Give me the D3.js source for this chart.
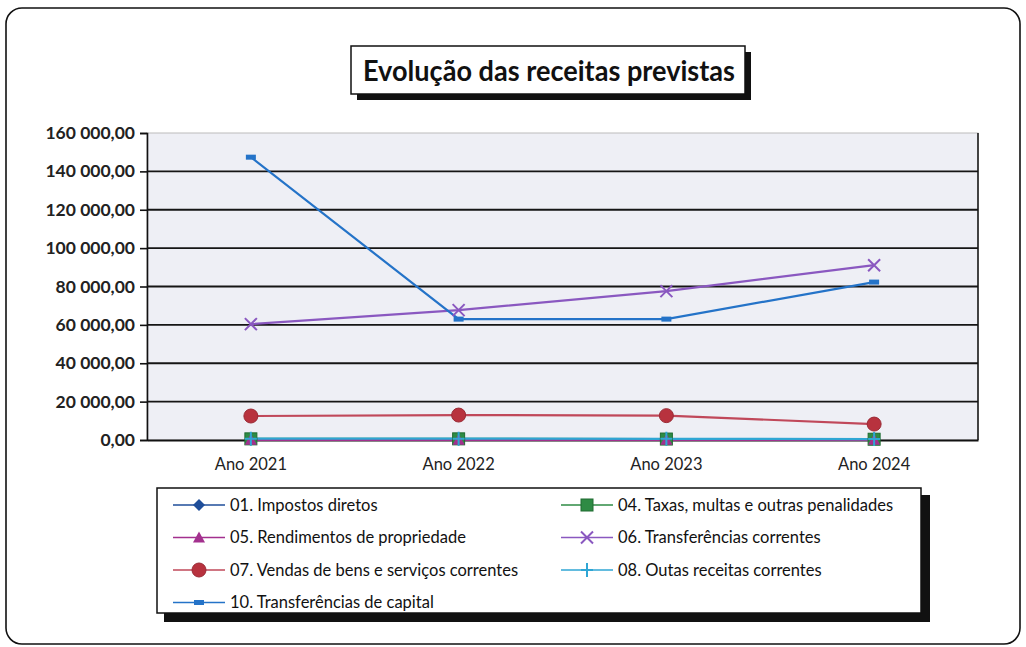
<!DOCTYPE html>
<html><head><meta charset="utf-8">
<script src="https://cdn.jsdelivr.net/npm/d3@7"></script>
<style>body{margin:0;background:#fff}svg{display:block}text{font-family:Lato,"Open Sans",sans-serif}</style>
</head><body><svg id="c" width="1026" height="647"></svg>
<script>
const categories = ["Ano 2021","Ano 2022","Ano 2023","Ano 2024"];
const yTicks = [0,20000,40000,60000,80000,100000,120000,140000,160000];
const seriesNames = ["01. Impostos diretos","04. Taxas, multas e outras penalidades","05. Rendimentos de propriedade","06. Transferências correntes","07. Vendas de bens e serviços correntes","08. Outas receitas correntes","10. Transferências de capital"];
const impostos = [300,300,300,200];
const taxas = [600,600,500,400];
const rendimentos = [100,100,100,100];
const transfCorrentes = [60400,67700,77600,91100];
const vendas = [12500,13000,12700,8300];
const outras = [700,700,600,500];
const transfCapital = [147400,63000,63000,82300];

const svg = d3.select("#c");
const M = {l:147, r:978, t:133, b:440};
const x = d3.scaleBand().domain(categories).range([M.l, M.r]);
const y = d3.scaleLinear().domain([0,160000]).range([M.b, M.t]);
const fmt = v => { const s = d3.format(",.2f")(v); return s.replace(/,/g," ").replace(/\.(\d\d)$/, ",$1"); };

// outer frame
svg.append("rect").attr("x",6).attr("y",8).attr("width",1014).attr("height",636).attr("rx",16)
  .attr("fill","#fff").attr("stroke","#111").attr("stroke-width",1.6);

// title box
svg.append("rect").attr("x",357).attr("y",52).attr("width",394).attr("height",48).attr("fill","#111");
svg.append("rect").attr("x",351).attr("y",46).attr("width",394).attr("height",48).attr("fill","#fff").attr("stroke","#111").attr("stroke-width",1.5);
svg.append("text").attr("x",549).attr("y",81).attr("text-anchor","middle").attr("font-size",28).attr("font-weight","bold").attr("fill","#111")
  .attr("textLength",372).attr("lengthAdjust","spacingAndGlyphs")
  .text("Evolução das receitas previstas");

// plot bg
svg.append("rect").attr("x",M.l).attr("y",M.t).attr("width",M.r-M.l).attr("height",M.b-M.t).attr("fill","#eeeff5").attr("stroke","#bbb");
svg.append("line").attr("x1",M.r).attr("x2",M.r).attr("y1",M.t).attr("y2",M.b).attr("stroke","#111").attr("stroke-width",1.5);

// grid
svg.append("g").selectAll("line").data(yTicks.filter(d=>d>0 && d<160000)).join("line")
  .attr("x1",M.l).attr("x2",M.r).attr("y1",d=>y(d)).attr("y2",d=>y(d)).attr("stroke","#151515").attr("stroke-width",1.8);

// y axis
const ya = svg.append("g").attr("transform",`translate(${M.l},0)`)
  .call(d3.axisLeft(y).tickValues(yTicks).tickFormat(fmt).tickSize(7).tickPadding(5));
ya.attr("font-size",null).attr("font-family",null);
ya.select(".domain").attr("stroke","#111").attr("stroke-width",1.6);
ya.selectAll(".tick line").attr("stroke","#111").attr("stroke-width",1.6);
ya.selectAll("text").style("font-size","17.5px").style("font-weight","bold").attr("fill","#222").style("font-family","Lato");

// x axis
const xa = svg.append("g").attr("transform",`translate(0,${M.b})`).call(d3.axisBottom(x).tickSize(0).tickPadding(18));
xa.attr("font-size",null).attr("font-family",null);
xa.select(".domain").attr("stroke","#111").attr("stroke-width",1.8);
xa.selectAll("text").style("font-size","16.5px").attr("fill","#222").style("font-family","Lato");

const series = [
  {name:seriesNames[0], data:impostos, color:"#1f4e9a", marker:"diamond"},
  {name:seriesNames[1], data:taxas, color:"#2e8b44", marker:"square"},
  {name:seriesNames[2], data:rendimentos, color:"#a3308e", marker:"triangle"},
  {name:seriesNames[3], data:transfCorrentes, color:"#8a58c0", marker:"x"},
  {name:seriesNames[4], data:vendas, color:"#c0485a", marker:"circle", fill:"#b8323e"},
  {name:seriesNames[5], data:outras, color:"#2fa6d4", marker:"plus"},
  {name:seriesNames[6], data:transfCapital, color:"#2473c8", marker:"dash"}
];
const cx = c => x(c) + x.bandwidth()/2;

function drawMarker(g, type, color, fill) {
  if (type==="diamond") g.append("path").attr("d","M0,-6L6,0L0,6L-6,0Z").attr("fill",color);
  else if (type==="square") g.append("rect").attr("x",-6).attr("y",-6).attr("width",12).attr("height",12).attr("fill",color).attr("stroke","#1e6b30");
  else if (type==="triangle") g.append("path").attr("d","M0,-6L6,5L-6,5Z").attr("fill",color);
  else if (type==="x") g.append("path").attr("d","M-6,-6L6,6M-6,6L6,-6").attr("stroke",color).attr("stroke-width",2);
  else if (type==="circle") g.append("circle").attr("r",7).attr("fill",fill||color).attr("stroke","#9a2a35");
  else if (type==="plus") g.append("path").attr("d","M-6,0L6,0M0,-7L0,7").attr("stroke",color).attr("stroke-width",2);
  else if (type==="dash") g.append("rect").attr("x",-5).attr("y",-2.5).attr("width",10).attr("height",5).attr("fill",color);
}

const line = d3.line().x((d,i)=>cx(categories[i])).y(d=>y(d));
series.forEach(s => {
  svg.append("path").datum(s.data).attr("d",line).attr("fill","none").attr("stroke",s.color).attr("stroke-width",2.2);
});
series.forEach(s => {
  s.data.forEach((v,i) => {
    const g = svg.append("g").attr("transform",`translate(${cx(categories[i])},${y(v)})`);
    drawMarker(g, s.marker, s.color, s.fill);
  });
});

// legend
svg.append("rect").attr("x",164).attr("y",495).attr("width",766).attr("height",127).attr("fill","#111");
svg.append("rect").attr("x",157).attr("y",488).attr("width",764).attr("height",125).attr("fill","#fff").attr("stroke","#111").attr("stroke-width",1.5);
series.forEach((s,k) => {
  const col = k % 2, row = Math.floor(k/2);
  const lx = col===0 ? 173 : 561;
  const ly = 505 + row*32.5;
  svg.append("line").attr("x1",lx).attr("x2",lx+52).attr("y1",ly).attr("y2",ly).attr("stroke",s.color).attr("stroke-width",1.6);
  drawMarker(svg.append("g").attr("transform",`translate(${lx+26},${ly})`), s.marker, s.color, s.fill);
  svg.append("text").attr("x",lx+57).attr("y",ly+5.5).attr("font-size",16.5).attr("fill","#111").text(s.name);
});
</script></body></html>
